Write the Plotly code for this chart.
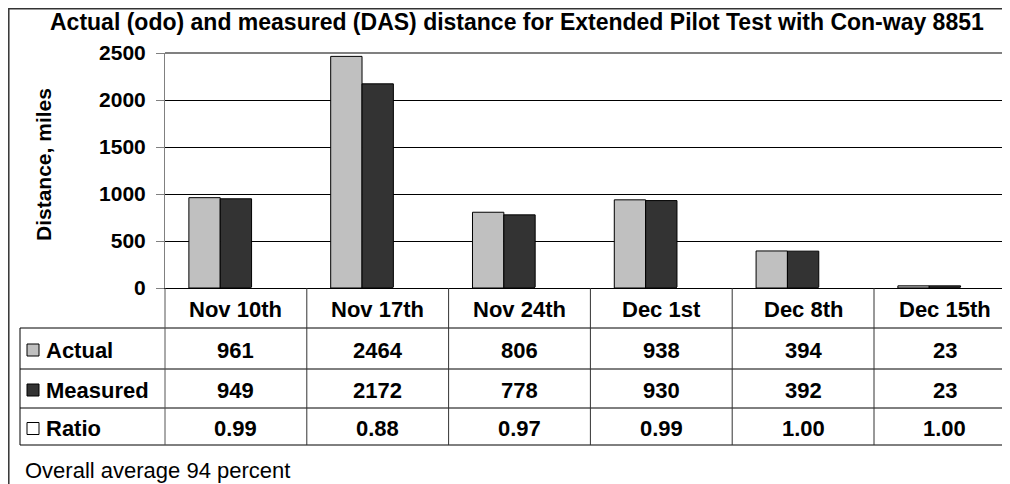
import plotly.graph_objects as go

# ---- data ----
categories = ["Nov 10th", "Nov 17th", "Nov 24th", "Dec 1st", "Dec 8th", "Dec 15th"]
actual = [961, 2464, 806, 938, 394, 23]
measured = [949, 2172, 778, 930, 392, 23]
ratio = [0.99, 0.88, 0.97, 0.99, 1.00, 1.00]
series_names = ["Actual", "Measured", "Ratio"]
series_colors = ["#C0C0C0", "#333333", "#FFFFFF"]
y_ticks = [0, 500, 1000, 1500, 2000, 2500]
title_text = "Actual (odo) and measured (DAS) distance for Extended Pilot Test with Con-way 8851"
y_title = "Distance, miles"
footnote = "Overall average 94 percent"

# ---- geometry (pixels, in reference-screenshot coordinates) ----
OFF = 8  # the page body margin shifts the figure by 8px
W, H = 1010 - 2 * OFF, 484 - OFF
PL, PR, PT, PB = 165, 1010 - OFF, 53, 288
CAT_W = 141.8
FONT = "Liberation Sans, Arial, sans-serif"


def px_x(x):
    return (x - PL) / (PR - PL)


def px_y(y):
    return (PB - y) / (PB - PT)


n_vis = (PR - PL) / CAT_W

fig = go.Figure()
for k, (name, vals, col) in enumerate(zip(series_names, [actual, measured, ratio], series_colors)):
    fig.add_trace(go.Bar(
        x=list(range(len(categories))), y=vals, name=name,
        marker=dict(color=col, line=dict(color="#000000", width=1 if k < 2 else 0)),
        showlegend=False, hoverinfo="skip",
    ))

fig.update_layout(
    width=W, height=H,
    margin=dict(l=PL - OFF, r=(W + OFF) - PR, t=PT - OFF, b=(H + OFF) - PB, pad=0),
    paper_bgcolor="white", plot_bgcolor="white",
    barmode="group", bargap=0.337, bargroupgap=0,
    font=dict(family=FONT, color="black"),
    xaxis=dict(range=[-0.5, -0.5 + n_vis], showticklabels=False, showgrid=False,
               zeroline=False, showline=True, linecolor="black", linewidth=1,
               ticks=""),
    yaxis=dict(range=[0, 2500], tickvals=y_ticks, showgrid=True, gridcolor="black",
               gridwidth=1, zeroline=False, showline=True, linecolor="#808080",
               linewidth=1, ticks="outside", ticklen=8, tickcolor="#808080",
               ticklabelstandoff=6,
               tickfont=dict(family=FONT, size=21, color="black", weight="bold")),
)

shapes = []
ann = []

# plot-area top border (gray)
shapes.append(dict(type="line", xref="paper", yref="paper", x0=0, x1=1, y0=1, y1=1,
                   line=dict(color="#808080", width=2)))

# outer chart border (as close to the page edge as possible)
shapes.append(dict(type="rect", xref="paper", yref="paper",
                   x0=px_x(OFF + 0.8), x1=px_x(1040), y0=px_y(OFF + 0.8), y1=px_y(540),
                   line=dict(color="#333333", width=1.5), fillcolor="rgba(0,0,0,0)"))

# table
row_lines = [328, 369, 408, 445]
for yy in row_lines:
    shapes.append(dict(type="line", xref="paper", yref="paper",
                       x0=px_x(20), x1=1, y0=px_y(yy), y1=px_y(yy),
                       line=dict(color="black", width=1)))
shapes.append(dict(type="line", xref="paper", yref="paper", x0=px_x(20), x1=px_x(20),
                   y0=px_y(328), y1=px_y(445), line=dict(color="black", width=1)))
shapes.append(dict(type="line", xref="paper", yref="paper", x0=0, x1=0,
                   y0=px_y(288), y1=px_y(445), line=dict(color="#555555", width=1)))
for i in range(len(categories) - 1):
    shapes.append(dict(type="line", xref="x", yref="paper", x0=i + 0.5, x1=i + 0.5,
                       y0=px_y(288), y1=px_y(445), line=dict(color="#333333", width=1)))

row_centers = [309, 350, 390, 428.5]
bold = dict(family=FONT, size=22, color="black", weight="bold")

for i, c in enumerate(categories):
    ann.append(dict(x=i, y=px_y(row_centers[0]), xref="x", yref="paper", text=c,
                    showarrow=False, font=bold, xanchor="center", yanchor="middle"))
    ann.append(dict(x=i, y=px_y(row_centers[1]), xref="x", yref="paper", text=str(actual[i]),
                    showarrow=False, font=bold, xanchor="center", yanchor="middle"))
    ann.append(dict(x=i, y=px_y(row_centers[2]), xref="x", yref="paper", text=str(measured[i]),
                    showarrow=False, font=bold, xanchor="center", yanchor="middle"))
    ann.append(dict(x=i, y=px_y(row_centers[3]), xref="x", yref="paper", text=f"{ratio[i]:.2f}",
                    showarrow=False, font=bold, xanchor="center", yanchor="middle"))

for k, (name, col) in enumerate(zip(series_names, series_colors)):
    yc = row_centers[k + 1]
    shapes.append(dict(type="rect", xref="paper", yref="paper",
                       x0=px_x(27), x1=px_x(39), y0=px_y(yc - 6), y1=px_y(yc + 6),
                       fillcolor=col, line=dict(color="black", width=1)))
    ann.append(dict(x=px_x(44), y=px_y(yc), xref="paper", yref="paper", text=name,
                    showarrow=False, font=bold, xanchor="left", yanchor="middle"))

# title
ann.append(dict(x=px_x(517), y=px_y(22), xref="paper", yref="paper", text=title_text,
                showarrow=False, font=dict(family=FONT, size=23, color="black", weight="bold"),
                xanchor="center", yanchor="middle"))
# y-axis title
ann.append(dict(x=px_x(43), y=px_y(165), xref="paper", yref="paper", text=y_title,
                showarrow=False, textangle=-90,
                font=dict(family=FONT, size=21, color="black", weight="bold"),
                xanchor="center", yanchor="middle"))
# footnote
ann.append(dict(x=px_x(23), y=px_y(470), xref="paper", yref="paper", text=footnote,
                showarrow=False, font=dict(family=FONT, size=22, color="black"),
                xanchor="left", yanchor="middle"))

fig.update_layout(shapes=shapes, annotations=ann)
fig.write_html("out.html")
